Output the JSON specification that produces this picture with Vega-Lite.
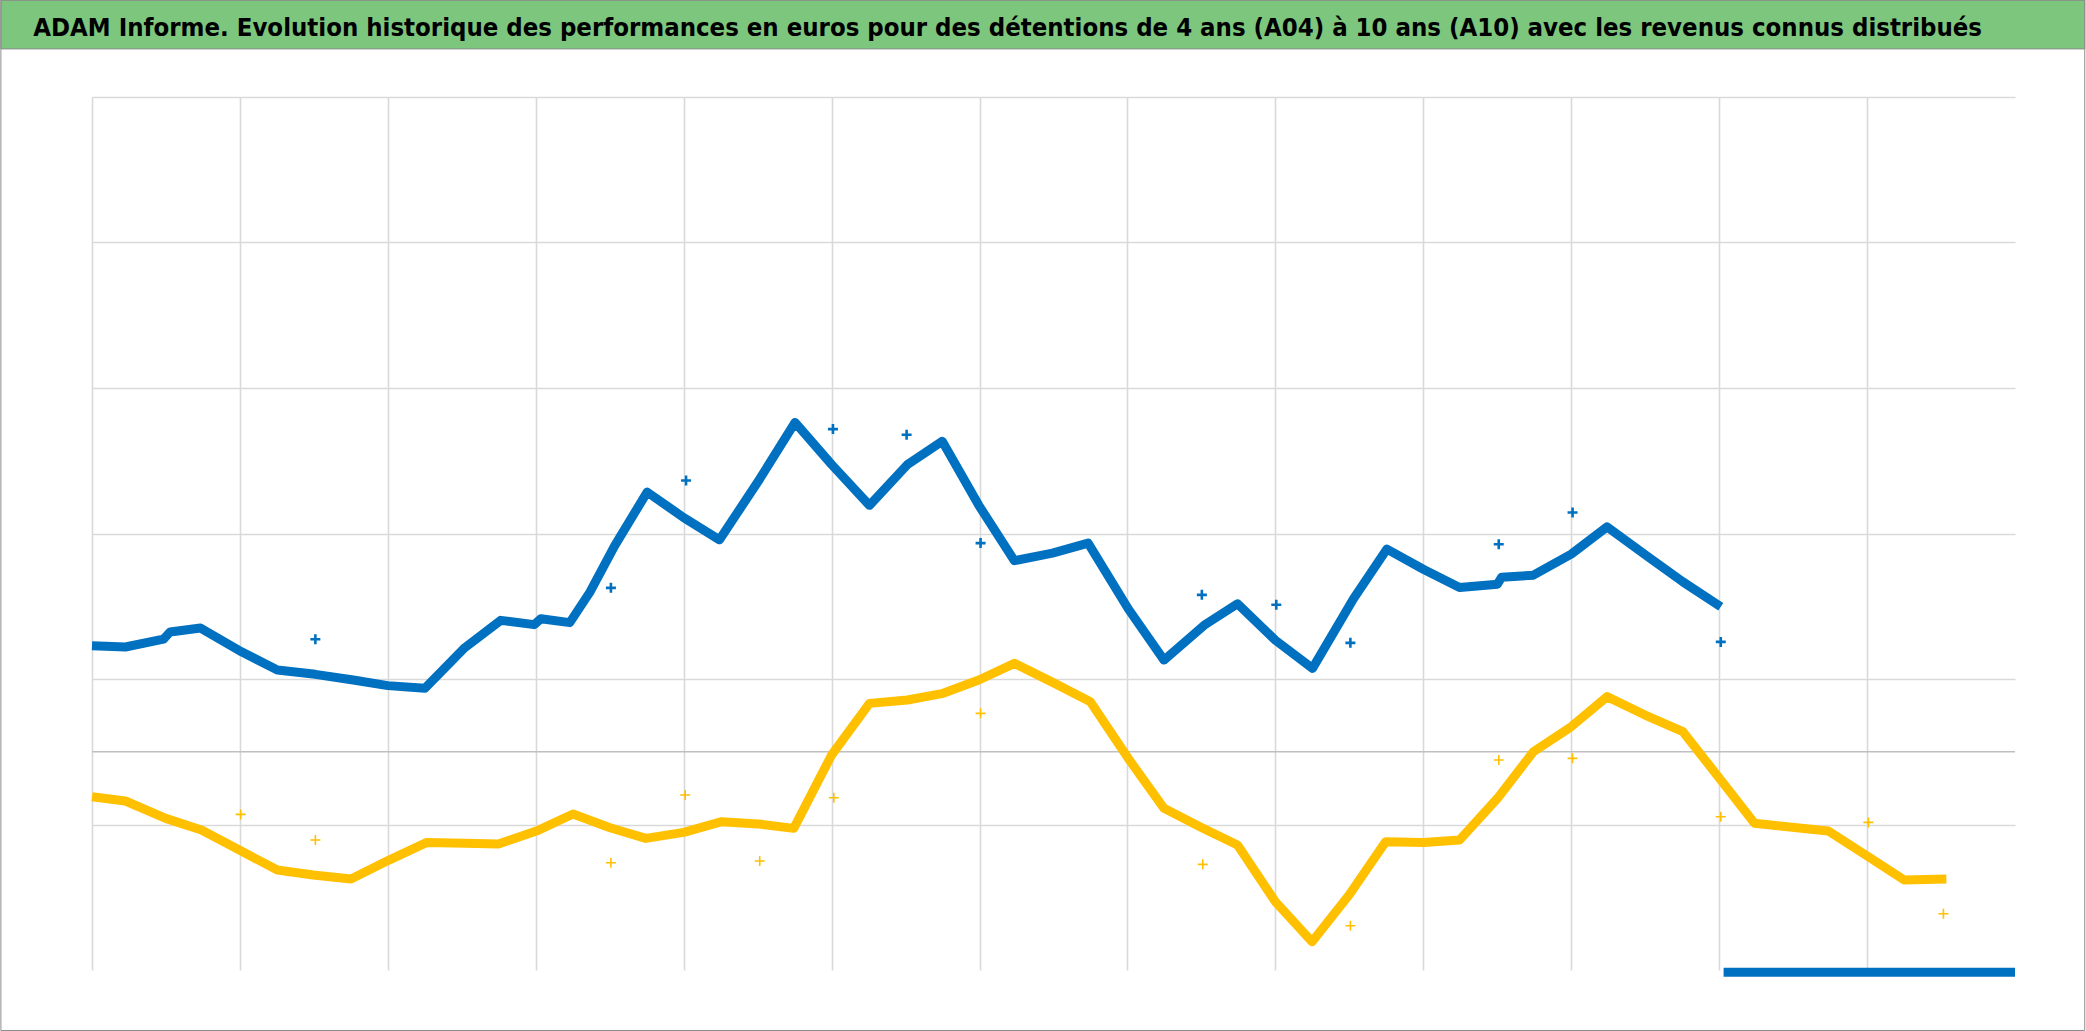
{
  "$schema": "https://vega.github.io/schema/vega-lite/v6.json",
  "width": 1923,
  "height": 873,
  "autosize": {"type": "none"},
  "padding": {"left": 92, "top": 97, "right": 71, "bottom": 61},
  "background": "white",
  "config": {
    "view": {"stroke": null},
    "axis": {"grid": true, "gridColor": "#D9D9D9", "gridWidth": 1.6, "labels": false, "ticks": false, "domain": false}
  },
  "datasets": {
    "pts": [
      {"serie": "A10", "seg": "b1", "kind": "line", "u": 0, "v": 1.456},
      {"serie": "A10", "seg": "b1", "kind": "line", "u": 0.226, "v": 1.44},
      {"serie": "A10", "seg": "b1", "kind": "line", "u": 0.483, "v": 1.547},
      {"serie": "A10", "seg": "b1", "kind": "line", "u": 0.528, "v": 1.647},
      {"serie": "A10", "seg": "b1", "kind": "line", "u": 0.734, "v": 1.7},
      {"serie": "A10", "seg": "b1", "kind": "line", "u": 1.011, "v": 1.374},
      {"serie": "A10", "seg": "b1", "kind": "line", "u": 1.253, "v": 1.123},
      {"serie": "A10", "seg": "b1", "kind": "line", "u": 1.51, "v": 1.064},
      {"serie": "A10", "seg": "b1", "kind": "line", "u": 1.766, "v": 0.986},
      {"serie": "A10", "seg": "b1", "kind": "line", "u": 2.0, "v": 0.909},
      {"serie": "A10", "seg": "b1", "kind": "line", "u": 2.25, "v": 0.872},
      {"serie": "A10", "seg": "b1", "kind": "line", "u": 2.52, "v": 1.43},
      {"serie": "A10", "seg": "b1", "kind": "line", "u": 2.763, "v": 1.806},
      {"serie": "A10", "seg": "b1", "kind": "line", "u": 2.99, "v": 1.747},
      {"serie": "A10", "seg": "b1", "kind": "line", "u": 3.035, "v": 1.829},
      {"serie": "A10", "seg": "b1", "kind": "line", "u": 3.23, "v": 1.775},
      {"serie": "A10", "seg": "b1", "kind": "line", "u": 3.366, "v": 2.194},
      {"serie": "A10", "seg": "b1", "kind": "line", "u": 3.533, "v": 2.83},
      {"serie": "A10", "seg": "b1", "kind": "line", "u": 3.753, "v": 3.569},
      {"serie": "A10", "seg": "b1", "kind": "line", "u": 4.0, "v": 3.219},
      {"serie": "A10", "seg": "b1", "kind": "line", "u": 4.242, "v": 2.913},
      {"serie": "A10", "seg": "b1", "kind": "line", "u": 4.514, "v": 3.75},
      {"serie": "A10", "seg": "b1", "kind": "line", "u": 4.753, "v": 4.526},
      {"serie": "A10", "seg": "b1", "kind": "line", "u": 5.0, "v": 3.948},
      {"serie": "A10", "seg": "b1", "kind": "line", "u": 5.256, "v": 3.387},
      {"serie": "A10", "seg": "b1", "kind": "line", "u": 5.513, "v": 3.948},
      {"serie": "A10", "seg": "b1", "kind": "line", "u": 5.748, "v": 4.267},
      {"serie": "A10", "seg": "b1", "kind": "line", "u": 5.995, "v": 3.387},
      {"serie": "A10", "seg": "b1", "kind": "line", "u": 6.236, "v": 2.626},
      {"serie": "A10", "seg": "b1", "kind": "line", "u": 6.493, "v": 2.731},
      {"serie": "A10", "seg": "b1", "kind": "line", "u": 6.734, "v": 2.868},
      {"serie": "A10", "seg": "b1", "kind": "line", "u": 7.005, "v": 1.966},
      {"serie": "A10", "seg": "b1", "kind": "line", "u": 7.247, "v": 1.26},
      {"serie": "A10", "seg": "b1", "kind": "line", "u": 7.518, "v": 1.738},
      {"serie": "A10", "seg": "b1", "kind": "line", "u": 7.744, "v": 2.034},
      {"serie": "A10", "seg": "b1", "kind": "line", "u": 8.0, "v": 1.533},
      {"serie": "A10", "seg": "b1", "kind": "line", "u": 8.251, "v": 1.146},
      {"serie": "A10", "seg": "b1", "kind": "line", "u": 8.528, "v": 2.103},
      {"serie": "A10", "seg": "b1", "kind": "line", "u": 8.754, "v": 2.786},
      {"serie": "A10", "seg": "b1", "kind": "line", "u": 9.003, "v": 2.505},
      {"serie": "A10", "seg": "b1", "kind": "line", "u": 9.245, "v": 2.258},
      {"serie": "A10", "seg": "b1", "kind": "line", "u": 9.501, "v": 2.303},
      {"serie": "A10", "seg": "b1", "kind": "line", "u": 9.53, "v": 2.4},
      {"serie": "A10", "seg": "b1", "kind": "line", "u": 9.744, "v": 2.427},
      {"serie": "A10", "seg": "b1", "kind": "line", "u": 10.0, "v": 2.716},
      {"serie": "A10", "seg": "b1", "kind": "line", "u": 10.242, "v": 3.092},
      {"serie": "A10", "seg": "b1", "kind": "line", "u": 10.513, "v": 2.688},
      {"serie": "A10", "seg": "b1", "kind": "line", "u": 10.755, "v": 2.335},
      {"serie": "A10", "seg": "b1", "kind": "line", "u": 11.011, "v": 1.992},
      {"serie": "A10", "seg": "b2", "kind": "line", "u": 11.03, "v": -3.03},
      {"serie": "A10", "seg": "b2", "kind": "line", "u": 13.0, "v": -3.03},
      {"serie": "A10", "seg": "bm", "kind": "marker", "u": 1.51, "v": 1.547},
      {"serie": "A10", "seg": "bm", "kind": "marker", "u": 3.508, "v": 2.253},
      {"serie": "A10", "seg": "bm", "kind": "marker", "u": 4.016, "v": 3.729},
      {"serie": "A10", "seg": "bm", "kind": "marker", "u": 5.009, "v": 4.435},
      {"serie": "A10", "seg": "bm", "kind": "marker", "u": 5.507, "v": 4.358},
      {"serie": "A10", "seg": "bm", "kind": "marker", "u": 6.007, "v": 2.868},
      {"serie": "A10", "seg": "bm", "kind": "marker", "u": 7.503, "v": 2.157},
      {"serie": "A10", "seg": "bm", "kind": "marker", "u": 8.006, "v": 2.02},
      {"serie": "A10", "seg": "bm", "kind": "marker", "u": 8.507, "v": 1.497},
      {"serie": "A10", "seg": "bm", "kind": "marker", "u": 9.51, "v": 2.853},
      {"serie": "A10", "seg": "bm", "kind": "marker", "u": 10.009, "v": 3.289},
      {"serie": "A10", "seg": "bm", "kind": "marker", "u": 11.011, "v": 1.51},
      {"serie": "A04", "seg": "y1", "kind": "line", "u": 0, "v": -0.618},
      {"serie": "A04", "seg": "y1", "kind": "line", "u": 0.226, "v": -0.677},
      {"serie": "A04", "seg": "y1", "kind": "line", "u": 0.498, "v": -0.916},
      {"serie": "A04", "seg": "y1", "kind": "line", "u": 0.74, "v": -1.076},
      {"serie": "A04", "seg": "y1", "kind": "line", "u": 0.996, "v": -1.351},
      {"serie": "A04", "seg": "y1", "kind": "line", "u": 1.253, "v": -1.626},
      {"serie": "A04", "seg": "y1", "kind": "line", "u": 1.495, "v": -1.695},
      {"serie": "A04", "seg": "y1", "kind": "line", "u": 1.751, "v": -1.75},
      {"serie": "A04", "seg": "y1", "kind": "line", "u": 2.008, "v": -1.489},
      {"serie": "A04", "seg": "y1", "kind": "line", "u": 2.264, "v": -1.246},
      {"serie": "A04", "seg": "y1", "kind": "line", "u": 2.521, "v": -1.259},
      {"serie": "A04", "seg": "y1", "kind": "line", "u": 2.748, "v": -1.269},
      {"serie": "A04", "seg": "y1", "kind": "line", "u": 3.004, "v": -1.09},
      {"serie": "A04", "seg": "y1", "kind": "line", "u": 3.252, "v": -0.856},
      {"serie": "A04", "seg": "y1", "kind": "line", "u": 3.502, "v": -1.044},
      {"serie": "A04", "seg": "y1", "kind": "line", "u": 3.744, "v": -1.191},
      {"serie": "A04", "seg": "y1", "kind": "line", "u": 4.0, "v": -1.108},
      {"serie": "A04", "seg": "y1", "kind": "line", "u": 4.257, "v": -0.961},
      {"serie": "A04", "seg": "y1", "kind": "line", "u": 4.529, "v": -0.998},
      {"serie": "A04", "seg": "y1", "kind": "line", "u": 4.744, "v": -1.053},
      {"serie": "A04", "seg": "y1", "kind": "line", "u": 5.0, "v": -0.045},
      {"serie": "A04", "seg": "y1", "kind": "line", "u": 5.256, "v": 0.665},
      {"serie": "A04", "seg": "y1", "kind": "line", "u": 5.513, "v": 0.711},
      {"serie": "A04", "seg": "y1", "kind": "line", "u": 5.754, "v": 0.803},
      {"serie": "A04", "seg": "y1", "kind": "line", "u": 5.995, "v": 0.986},
      {"serie": "A04", "seg": "y1", "kind": "line", "u": 6.236, "v": 1.215},
      {"serie": "A04", "seg": "y1", "kind": "line", "u": 6.508, "v": 0.94},
      {"serie": "A04", "seg": "y1", "kind": "line", "u": 6.749, "v": 0.688},
      {"serie": "A04", "seg": "y1", "kind": "line", "u": 7.005, "v": -0.091},
      {"serie": "A04", "seg": "y1", "kind": "line", "u": 7.247, "v": -0.778},
      {"serie": "A04", "seg": "y1", "kind": "line", "u": 7.503, "v": -1.044},
      {"serie": "A04", "seg": "y1", "kind": "line", "u": 7.744, "v": -1.282},
      {"serie": "A04", "seg": "y1", "kind": "line", "u": 8.0, "v": -2.061},
      {"serie": "A04", "seg": "y1", "kind": "line", "u": 8.248, "v": -2.611},
      {"serie": "A04", "seg": "y1", "kind": "line", "u": 8.498, "v": -1.97},
      {"serie": "A04", "seg": "y1", "kind": "line", "u": 8.746, "v": -1.236},
      {"serie": "A04", "seg": "y1", "kind": "line", "u": 9.003, "v": -1.246},
      {"serie": "A04", "seg": "y1", "kind": "line", "u": 9.245, "v": -1.214},
      {"serie": "A04", "seg": "y1", "kind": "line", "u": 9.501, "v": -0.641},
      {"serie": "A04", "seg": "y1", "kind": "line", "u": 9.744, "v": 0.0},
      {"serie": "A04", "seg": "y1", "kind": "line", "u": 10.0, "v": 0.345},
      {"serie": "A04", "seg": "y1", "kind": "line", "u": 10.242, "v": 0.757},
      {"serie": "A04", "seg": "y1", "kind": "line", "u": 10.499, "v": 0.505},
      {"serie": "A04", "seg": "y1", "kind": "line", "u": 10.755, "v": 0.276},
      {"serie": "A04", "seg": "y1", "kind": "line", "u": 11.011, "v": -0.389},
      {"serie": "A04", "seg": "y1", "kind": "line", "u": 11.239, "v": -0.984},
      {"serie": "A04", "seg": "y1", "kind": "line", "u": 11.524, "v": -1.044},
      {"serie": "A04", "seg": "y1", "kind": "line", "u": 11.738, "v": -1.09},
      {"serie": "A04", "seg": "y1", "kind": "line", "u": 12.009, "v": -1.443},
      {"serie": "A04", "seg": "y1", "kind": "line", "u": 12.251, "v": -1.764},
      {"serie": "A04", "seg": "y1", "kind": "line", "u": 12.536, "v": -1.75},
      {"serie": "A04", "seg": "ym", "kind": "marker", "u": 1.005, "v": -0.861},
      {"serie": "A04", "seg": "ym", "kind": "marker", "u": 1.51, "v": -1.214},
      {"serie": "A04", "seg": "ym", "kind": "marker", "u": 3.508, "v": -1.525},
      {"serie": "A04", "seg": "ym", "kind": "marker", "u": 4.01, "v": -0.595},
      {"serie": "A04", "seg": "ym", "kind": "marker", "u": 4.514, "v": -1.502},
      {"serie": "A04", "seg": "ym", "kind": "marker", "u": 5.015, "v": -0.632},
      {"serie": "A04", "seg": "ym", "kind": "marker", "u": 6.007, "v": 0.528},
      {"serie": "A04", "seg": "ym", "kind": "marker", "u": 7.509, "v": -1.548},
      {"serie": "A04", "seg": "ym", "kind": "marker", "u": 8.507, "v": -2.391},
      {"serie": "A04", "seg": "ym", "kind": "marker", "u": 9.51, "v": -0.114},
      {"serie": "A04", "seg": "ym", "kind": "marker", "u": 10.009, "v": -0.091},
      {"serie": "A04", "seg": "ym", "kind": "marker", "u": 11.011, "v": -0.893},
      {"serie": "A04", "seg": "ym", "kind": "marker", "u": 12.009, "v": -0.971},
      {"serie": "A04", "seg": "ym", "kind": "marker", "u": 12.516, "v": -2.226}
    ],
    "titre": [
      {"t": "ADAM Informe. Evolution historique des performances en euros pour des détentions de 4 ans (A04) à 10 ans (A10) avec les revenus connus distribués"}
    ]
  },
  "layer": [
    {
      "data": {"name": "titre"},
      "mark": {"type": "rect", "fill": "#7DC67D", "stroke": "#8C8C8C", "strokeWidth": 1},
      "encoding": {
        "x": {"datum": -0.616, "type": "quantitative", "title": null, "scale": {"domain": [0, 13], "nice": false, "zero": false}, "axis": {"values": [0, 1, 2, 3, 4, 5, 6, 7, 8, 9, 10, 11, 12], "title": null}},
        "x2": {"datum": 13.4716},
        "y": {"datum": 10.332, "type": "quantitative", "title": null, "scale": {"domain": [-3, 9], "nice": false, "zero": false}, "axis": {"values": [-1, 1, 3, 5, 7, 9], "title": null}},
        "y2": {"datum": 9.661}
      }
    },
    {
      "data": {"name": "titre"},
      "mark": {"type": "rect", "fill": "#FFFFFF", "fillOpacity": 0, "stroke": "#8C8C8C", "strokeWidth": 1},
      "encoding": {
        "x": {"datum": -0.616, "type": "quantitative", "title": null, "scale": {"domain": [0, 13], "nice": false, "zero": false}, "axis": {"values": [0, 1, 2, 3, 4, 5, 6, 7, 8, 9, 10, 11, 12], "title": null}},
        "x2": {"datum": 13.4716},
        "y": {"datum": 10.332, "type": "quantitative", "title": null, "scale": {"domain": [-3, 9], "nice": false, "zero": false}, "axis": {"values": [-1, 1, 3, 5, 7, 9], "title": null}},
        "y2": {"datum": -3.832}
      }
    },
    {
      "data": {"name": "titre"},
      "mark": {"type": "text", "font": "Liberation Sans Narrow, DejaVu Sans Condensed, sans-serif", "fontWeight": "bold", "fontSize": 25.5, "color": "#000000", "align": "center", "baseline": "alphabetic"},
      "encoding": {
        "text": {"field": "t"},
        "x": {"datum": 6.19, "type": "quantitative", "title": null, "scale": {"domain": [0, 13], "nice": false, "zero": false}, "axis": {"values": [0, 1, 2, 3, 4, 5, 6, 7, 8, 9, 10, 11, 12], "title": null}},
        "y": {"datum": 9.835, "type": "quantitative", "title": null, "scale": {"domain": [-3, 9], "nice": false, "zero": false}, "axis": {"values": [-1, 1, 3, 5, 7, 9], "title": null}}
      }
    },
    {
      "data": {"name": "titre"},
      "mark": {"type": "rule", "color": "#BFBFBF", "strokeWidth": 1.6},
      "encoding": {
        "y": {"datum": 0, "type": "quantitative", "title": null, "scale": {"domain": [-3, 9], "nice": false, "zero": false}, "axis": {"values": [-1, 1, 3, 5, 7, 9], "title": null}}
      }
    },
    {
      "data": {"name": "pts"},
      "transform": [{"filter": "datum.seg === 'y1'"}],
      "mark": {"type": "line", "color": "#FFC000", "strokeWidth": 9, "strokeJoin": "round"},
      "encoding": {
        "x": {"field": "u", "type": "quantitative", "title": null, "scale": {"domain": [0, 13], "nice": false, "zero": false}, "axis": {"values": [0, 1, 2, 3, 4, 5, 6, 7, 8, 9, 10, 11, 12], "title": null}},
        "y": {"field": "v", "type": "quantitative", "title": null, "scale": {"domain": [-3, 9], "nice": false, "zero": false}, "axis": {"values": [-1, 1, 3, 5, 7, 9], "title": null}},
        "order": {"field": "u"}
      }
    },
    {
      "data": {"name": "pts"},
      "transform": [{"filter": "datum.seg === 'ym'"}],
      "mark": {"type": "point", "shape": "M-1,0H1M0,-1V1", "size": 100, "filled": false, "color": "#FFC000", "strokeWidth": 1.6, "opacity": 1},
      "encoding": {
        "x": {"field": "u", "type": "quantitative", "title": null, "scale": {"domain": [0, 13], "nice": false, "zero": false}, "axis": {"values": [0, 1, 2, 3, 4, 5, 6, 7, 8, 9, 10, 11, 12], "title": null}},
        "y": {"field": "v", "type": "quantitative", "title": null, "scale": {"domain": [-3, 9], "nice": false, "zero": false}, "axis": {"values": [-1, 1, 3, 5, 7, 9], "title": null}}
      }
    },
    {
      "data": {"name": "pts"},
      "transform": [{"filter": "datum.kind === 'line' && datum.serie === 'A10'"}],
      "mark": {"type": "line", "color": "#0070C0", "strokeWidth": 9, "strokeJoin": "round"},
      "encoding": {
        "x": {"field": "u", "type": "quantitative", "title": null, "scale": {"domain": [0, 13], "nice": false, "zero": false}, "axis": {"values": [0, 1, 2, 3, 4, 5, 6, 7, 8, 9, 10, 11, 12], "title": null}},
        "y": {"field": "v", "type": "quantitative", "title": null, "scale": {"domain": [-3, 9], "nice": false, "zero": false}, "axis": {"values": [-1, 1, 3, 5, 7, 9], "title": null}},
        "detail": {"field": "seg"},
        "order": {"field": "u"}
      }
    },
    {
      "data": {"name": "pts"},
      "transform": [{"filter": "datum.seg === 'bm'"}],
      "mark": {"type": "point", "shape": "M-1,0H1M0,-1V1", "size": 100, "filled": false, "color": "#0070C0", "strokeWidth": 2.6, "opacity": 1},
      "encoding": {
        "x": {"field": "u", "type": "quantitative", "title": null, "scale": {"domain": [0, 13], "nice": false, "zero": false}, "axis": {"values": [0, 1, 2, 3, 4, 5, 6, 7, 8, 9, 10, 11, 12], "title": null}},
        "y": {"field": "v", "type": "quantitative", "title": null, "scale": {"domain": [-3, 9], "nice": false, "zero": false}, "axis": {"values": [-1, 1, 3, 5, 7, 9], "title": null}}
      }
    }
  ]
}
